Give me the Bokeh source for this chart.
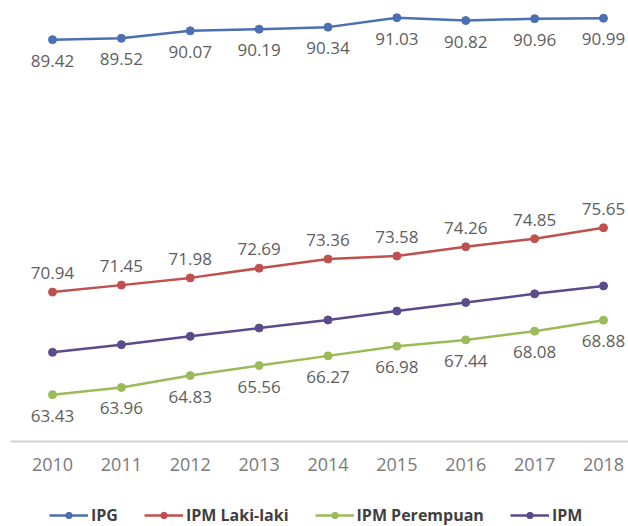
from bokeh.plotting import figure
from bokeh.layouts import column
from bokeh.models import Legend, LegendItem, Range1d, FixedTicker, ColumnDataSource, LabelSet
from bokeh.core.properties import value
from bokeh.embed import file_html
from bokeh.resources import INLINE

years = [2010, 2011, 2012, 2013, 2014, 2015, 2016, 2017, 2018]
year_labels = ["2010", "2011", "2012", "2013", "2014", "2015", "2016", "2017", "2018"]
ipg = [89.42, 89.52, 90.07, 90.19, 90.34, 91.03, 90.82, 90.96, 90.99]
ipm_laki = [70.94, 71.45, 71.98, 72.69, 73.36, 73.58, 74.26, 74.85, 75.65]
ipm_perempuan = [63.43, 63.96, 64.83, 65.56, 66.27, 66.98, 67.44, 68.08, 68.88]
ipm = [66.53, 67.09, 67.70, 68.31, 68.90, 69.55, 70.18, 70.81, 71.39]

series_names = ["IPG", "IPM Laki-laki", "IPM Perempuan", "IPM"]
colors = ["#4A6FB3", "#C0504D", "#9BBB59", "#5B4B8A"]

p = figure(width=628, height=500, output_backend="svg", toolbar_location=None,
           x_range=Range1d(2009.39, 2018.363), y_range=Range1d(60, 92.29),
           min_border_left=10, min_border_right=0, min_border_top=0, min_border_bottom=59)
p.outline_line_color = None
p.grid.visible = False
p.yaxis.visible = False
p.background_fill_color = "white"

p.xaxis.ticker = FixedTicker(ticks=years)
p.xaxis.major_label_overrides = {y: l for y, l in zip(years, year_labels)}
p.xaxis.major_tick_line_color = None
p.xaxis.minor_tick_line_color = None
p.xaxis.axis_line_color = "#D0D0D0"
p.xaxis.axis_line_width = 2
p.xaxis.major_label_text_font = "Open Sans"
p.xaxis.major_label_text_font_size = "18px"
p.xaxis.major_label_text_color = "#7A7A7A"
p.xaxis.major_label_standoff = 10

# legend strip under the chart (its ranges keep the series out of view)
lg = figure(width=628, height=26, output_backend="svg", toolbar_location=None,
            x_range=Range1d(0, 1), y_range=Range1d(0, 1),
            x_axis_location=None, y_axis_location=None,
            min_border_left=0, min_border_right=0, min_border_top=0, min_border_bottom=0)
lg.outline_line_color = None
lg.grid.visible = False

all_series = [ipg, ipm_laki, ipm_perempuan, ipm]
label_offsets = [-21, 19, -21, None]
items = []
for name, vals, col, off in zip(series_names, all_series, colors, label_offsets):
    src = ColumnDataSource(dict(x=years, y=vals, t=["%.2f" % v for v in vals]))
    p.line("x", "y", source=src, line_color=col, line_width=2.5)
    p.scatter("x", "y", source=src, size=8, fill_color=col, line_color=col)
    if off is not None:
        p.add_layout(LabelSet(x="x", y="y", text="t", source=src, y_offset=off,
                              text_align="center", text_baseline="middle",
                              text_font=value("Open Sans"), text_font_size=value("17px"),
                              text_color="#5E5E5E"))
    r1 = lg.line("x", "y", source=src, line_color=col, line_width=2.5)
    r2 = lg.scatter("x", "y", source=src, size=7, fill_color=col, line_color=col)
    items.append(LegendItem(label=name, renderers=[r1, r2]))

legend = Legend(items=items, orientation="horizontal", location=(39, 0),
                label_text_font="Open Sans", label_text_font_size="16px",
                label_text_font_style="bold", label_text_color="#3F3F3F",
                glyph_width=39, glyph_height=16, label_standoff=3, spacing=26,
                padding=0, margin=0,
                border_line_color=None, background_fill_alpha=0)
lg.add_layout(legend, "center")

layout = column(p, lg, spacing=0)
open("out.html", "w").write(file_html(layout, INLINE))
